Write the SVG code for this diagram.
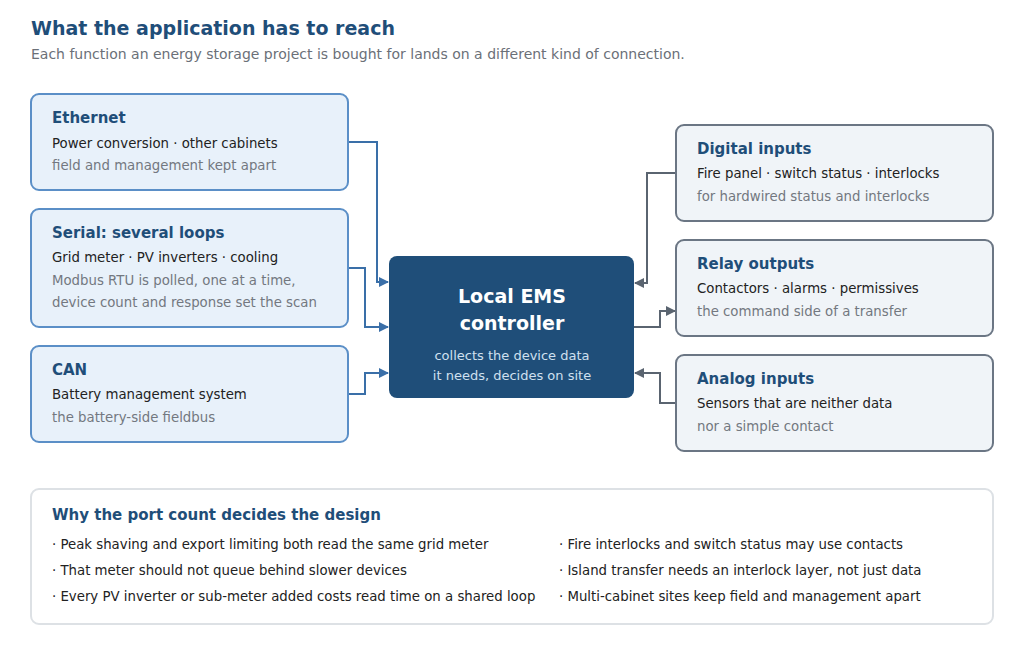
<svg xmlns="http://www.w3.org/2000/svg" width="1024" height="655" viewBox="0 0 1024 655">
<style>
text{font-family:"DejaVu Sans","Noto Sans",sans-serif}
.t{font-size:19px;font-weight:bold;fill:#1f4e79}
.s{font-size:14px;fill:#6b7078}
.lb{fill:#e8f1fa;stroke:#5b8fc7;stroke-width:2}
.rb{fill:#f0f4f8;stroke:#6b7684;stroke-width:2}
.h{font-size:15px;font-weight:bold;fill:#1f4e79}
.a{font-size:13.3px;fill:#222}
.b{font-size:13.3px;fill:#737880}
.cl{fill:none;stroke:#3a6fa8;stroke-width:2}
.cr{fill:none;stroke:#5a6470;stroke-width:2}
</style>
<defs>
<marker id="mb" markerWidth="10" markerHeight="10" refX="9" refY="5" orient="auto" markerUnits="userSpaceOnUse"><path d="M0,0L10,5L0,10z" fill="#3a6fa8"/></marker>
<marker id="mg" markerWidth="10" markerHeight="10" refX="9" refY="5" orient="auto" markerUnits="userSpaceOnUse"><path d="M0,0L10,5L0,10z" fill="#5a6470"/></marker>
</defs>
<rect width="1024" height="655" fill="#fff"/>
<text x="31" y="35" class="t">What the application has to reach</text>
<text x="31" y="59" class="s">Each function an energy storage project is bought for lands on a different kind of connection.</text>
<g id="connectors">
<path class="cl" d="M348,142H377V282H388" marker-end="url(#mb)"/>
<path class="cl" d="M348,268H365V327H388" marker-end="url(#mb)"/>
<path class="cl" d="M348,394H365V373H388" marker-end="url(#mb)"/>
<path class="cr" d="M676,173H647V283H635" marker-end="url(#mg)"/>
<path class="cr" d="M634,327H660V311H675" marker-end="url(#mg)"/>
<path class="cr" d="M676,403H660V373H635" marker-end="url(#mg)"/>
</g>
<g id="ethernet"><rect class="lb" x="31" y="94" width="317" height="96" rx="8"/>
<text x="52" y="123" class="h">Ethernet</text><text x="52" y="148" class="a">Power conversion · other cabinets</text><text x="52" y="170" class="b">field and management kept apart</text></g>
<g id="serial"><rect class="lb" x="31" y="209" width="317" height="118" rx="8"/>
<text x="52" y="238" class="h">Serial: several loops</text><text x="52" y="262" class="a">Grid meter · PV inverters · cooling</text><text x="52" y="285" class="b">Modbus RTU is polled, one at a time,</text><text x="52" y="307" class="b">device count and response set the scan</text></g>
<g id="can"><rect class="lb" x="31" y="346" width="317" height="96" rx="8"/>
<text x="52" y="375" class="h">CAN</text><text x="52" y="399" class="a">Battery management system</text><text x="52" y="422" class="b">the battery-side fieldbus</text></g>
<g id="digital"><rect class="rb" x="676" y="125" width="317" height="96" rx="8"/>
<text x="697" y="154" class="h">Digital inputs</text><text x="697" y="178" class="a">Fire panel · switch status · interlocks</text><text x="697" y="201" class="b">for hardwired status and interlocks</text></g>
<g id="relay"><rect class="rb" x="676" y="240" width="317" height="96" rx="8"/>
<text x="697" y="269" class="h">Relay outputs</text><text x="697" y="293" class="a">Contactors · alarms · permissives</text><text x="697" y="316" class="b">the command side of a transfer</text></g>
<g id="analog"><rect class="rb" x="676" y="355" width="317" height="96" rx="8"/>
<text x="697" y="384" class="h">Analog inputs</text><text x="697" y="408" class="a">Sensors that are neither data</text><text x="697" y="431" class="b">nor a simple contact</text></g>
<g id="ems"><rect x="389" y="256" width="245" height="142" rx="8" fill="#1f4e79"/>
<text x="512" y="303" text-anchor="middle" font-size="19" font-weight="bold" fill="#fff">Local EMS</text>
<text x="512" y="330" text-anchor="middle" font-size="19" font-weight="bold" fill="#fff">controller</text>
<text x="512" y="360" text-anchor="middle" font-size="13" fill="#cfe0f0">collects the device data</text>
<text x="512" y="380" text-anchor="middle" font-size="13" fill="#cfe0f0">it needs, decides on site</text></g>
<g id="why"><rect x="31" y="489" width="962" height="135" rx="8" fill="#fff" stroke="#dde1e5" stroke-width="2"/>
<text x="52" y="520" class="h">Why the port count decides the design</text>
<text x="52" y="549" class="a">· Peak shaving and export limiting both read the same grid meter</text>
<text x="52" y="575" class="a">· That meter should not queue behind slower devices</text>
<text x="52" y="601" class="a">· Every PV inverter or sub-meter added costs read time on a shared loop</text>
<text x="559" y="549" class="a">· Fire interlocks and switch status may use contacts</text>
<text x="559" y="575" class="a">· Island transfer needs an interlock layer, not just data</text>
<text x="559" y="601" class="a">· Multi-cabinet sites keep field and management apart</text></g>
</svg>
